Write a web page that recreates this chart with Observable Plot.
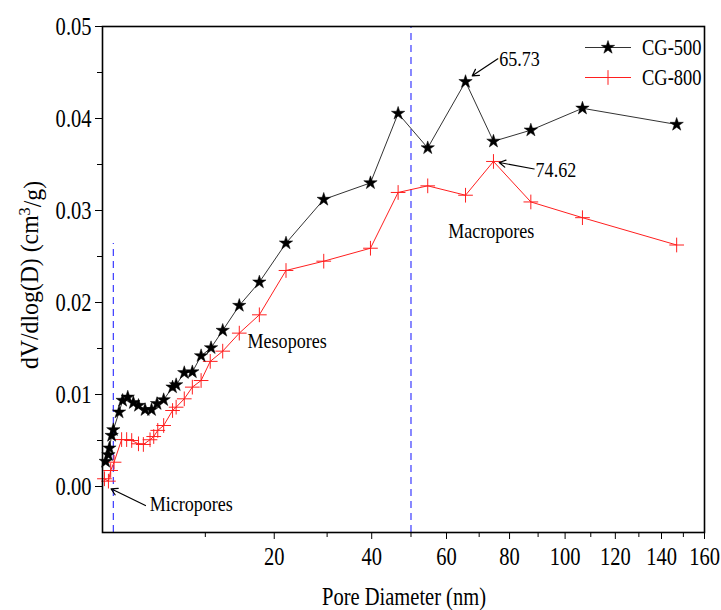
<!DOCTYPE html>
<html><head><meta charset="utf-8">
<script src="https://cdn.jsdelivr.net/npm/d3@7"></script>
<script src="https://cdn.jsdelivr.net/npm/@observablehq/plot@0.6"></script>
<style>
body{margin:0;background:#fff;}
</style></head><body><div id="chart"></div>
<script>
// ---- data ----
const cg500Diameter = [1.61, 1.745, 1.795, 1.91, 2.0, 2.32, 2.53, 2.85, 3.22, 3.58, 4.07, 4.58, 5.04, 5.62, 6.45, 6.8, 7.63, 8.5, 9.5, 10.7, 12.2, 14.5, 17.55, 22.05, 29.3, 39.7, 46.6, 54.6, 65.73, 74.62, 87.4, 106.7, 146.9];
const cg500Volume   = [0.00272, 0.00344, 0.00417, 0.00554, 0.00616, 0.00808, 0.00935, 0.0097, 0.0091, 0.0088, 0.00834, 0.00834, 0.0090, 0.00942, 0.0108, 0.01105, 0.01236, 0.01245, 0.0142, 0.01507, 0.01696, 0.01967, 0.02221, 0.02645, 0.0312, 0.0330, 0.04055, 0.0368, 0.0440, 0.03752, 0.03873, 0.04111, 0.03935];
const cg800Diameter = [1.55, 1.745, 1.86, 2.04, 2.47, 2.78, 3.11, 3.58, 3.94, 4.46, 4.76, 5.1, 5.62, 6.45, 6.8, 7.63, 8.5, 9.5, 10.6, 12.2, 14.5, 17.55, 22.05, 29.3, 39.7, 46.6, 54.6, 65.73, 74.62, 87.4, 106.7, 146.9];
const cg800Volume   = [0.00084, 0.00058, 0.00174, 0.00264, 0.0051, 0.0051, 0.0050, 0.00464, 0.00457, 0.00508, 0.00543, 0.0061, 0.00663, 0.00826, 0.00862, 0.00953, 0.0108, 0.01152, 0.0136, 0.01471, 0.01667, 0.01866, 0.02348, 0.02449, 0.0259, 0.03196, 0.03268, 0.03166, 0.03533, 0.03093, 0.02922, 0.02625];
const seriesNames = ["CG-500", "CG-800"];

const xMajorTicks = [20, 40, 60, 80, 100, 120, 140, 160];
const xMinorTicks = [10, 30, 50, 70, 90, 110, 130, 150];
const yMajorTicks = [0, 0.01, 0.02, 0.03, 0.04, 0.05];
const yMinorTicks = [0.005, 0.015, 0.025, 0.035, 0.045];

const boundaryDiameter = [2, 50];
const boundaryTop = [0.0264, 0.05];

const regionLabels = ["Micropores", "Mesopores", "Macropores"];
const regionLabelX = [4.43, 15.72, 73.9];
const regionLabelY = [-0.00185, 0.01587, 0.02783];
const regionAnchor = ["start", "start", "middle"];

const peakLabels = ["65.73", "74.62"];
const peakLabelX = [76.5, 89.1];
const peakLabelY = [0.0465, 0.0344];

const arrowX1 = [4.10, 76.07, 88.6];
const arrowY1 = [-0.00207, 0.04649, 0.03451];
const arrowX2 = [1.88, 67.82, 76.53];
const arrowY2 = [-0.00025, 0.04464, 0.03522];

// ---- build tables ----
const cg500 = cg500Diameter.map((d, i) => ({d, v: cg500Volume[i]}));
const cg800 = cg800Diameter.map((d, i) => ({d, v: cg800Volume[i]}));
const boundaries = boundaryDiameter.map((d, i) => ({d, top: boundaryTop[i]}));
const regions = regionLabels.map((t, i) => ({t, x: regionLabelX[i], y: regionLabelY[i], a: regionAnchor[i]}));
const peaks = peakLabels.map((t, i) => ({t, x: peakLabelX[i], y: peakLabelY[i]}));
const arrows = arrowX1.map((x1, i) => ({x1, y1: arrowY1[i], x2: arrowX2[i], y2: arrowY2[i]}));

const FONT = "'Liberation Serif', 'Times New Roman', serif";
const SQUEEZE = 0.82;
const STAR_R = 4.2, PLUS_R = 4.8;
const RED = "#ff1f1f";

const chart = Plot.plot({
  width: 721, height: 610,
  marginLeft: 102, marginRight: 17, marginTop: 26, marginBottom: 78,
  style: {fontFamily: FONT, fontSize: "25px", color: "black", background: "white", overflow: "visible"},
  x: {type: "sqrt", domain: [1.46, 160], label: null},
  y: {domain: [-0.005, 0.05], label: null},
  marks: [
    Plot.ruleX(boundaries, {x: "d", y1: -0.005, y2: "top", stroke: "#3a3aff", strokeDasharray: "7,5", strokeWidth: 1.2}),
    Plot.line(cg500, {x: "d", y: "v", stroke: "#333", strokeWidth: 1}),
    Plot.line(cg800, {x: "d", y: "v", stroke: RED, strokeWidth: 1}),
    Plot.dot(cg800, {x: "d", y: "v", symbol: "plus", r: PLUS_R, stroke: RED, strokeWidth: 1}),
    Plot.dot(cg500, {x: "d", y: "v", symbol: "star", r: STAR_R, fill: "black", stroke: "black", strokeWidth: 0.5}),
    Plot.arrow(arrows, {x1: "x1", y1: "y1", x2: "x2", y2: "y2", headLength: 9, stroke: "black", strokeWidth: 1.2}),
    Plot.text(regions.filter(r => r.a === "start"), {x: "x", y: "y", text: "t", textAnchor: "start", fontSize: 22, fill: "black"}),
    Plot.text(regions.filter(r => r.a === "middle"), {x: "x", y: "y", text: "t", textAnchor: "middle", fontSize: 22, fill: "black"}),
    Plot.text(peaks, {x: "x", y: "y", text: "t", textAnchor: "start", fontSize: 22, fill: "black"}),
    Plot.frame({stroke: "black", strokeWidth: 1.6}),
    Plot.axisX({ticks: xMajorTicks, tickSize: 7, tickPadding: 8, tickFormat: d => String(d), label: null}),
    Plot.axisX({ticks: xMinorTicks, tickSize: 5, tickFormat: () => "", label: null}),
    Plot.axisY({ticks: yMajorTicks, tickSize: 7, tickPadding: 4, tickFormat: d3.format(".2f"), label: null}),
    Plot.axisY({ticks: yMinorTicks, tickSize: 5, tickFormat: () => "", label: null})
  ]
});

const svg = d3.select(chart);

// axis titles
svg.append("text")
  .attr("transform", "translate(404,596)")
  .attr("text-anchor", "middle").attr("dy", "0.35em")
  .attr("font-family", FONT).attr("font-size", 25).attr("fill", "black")
  .text("Pore Diameter (nm)");
const yt = svg.append("text")
  .attr("class", "ytitle")
  .attr("transform", "translate(29,275) rotate(-90)")
  .attr("text-anchor", "middle").attr("dy", "0.35em")
  .attr("font-family", FONT).attr("font-size", 25).attr("fill", "black");
yt.append("tspan").text("dV/dlog(D) (cm");
yt.append("tspan").attr("dy", "-0.45em").attr("font-size", 17).text("3");
yt.append("tspan").attr("dy", "0.45em").text("/g)");

// legend
const legend = svg.append("g");
const legendRows = [
  {name: seriesNames[0], y: 47.5, color: "#333", sym: d3.symbolStar, size: Math.PI * STAR_R * STAR_R, fill: "black"},
  {name: seriesNames[1], y: 77.5, color: RED, sym: d3.symbolPlus, size: Math.PI * PLUS_R * PLUS_R, fill: "none"}
];
legendRows.forEach(r => {
  legend.append("line").attr("x1", 585).attr("x2", 631).attr("y1", r.y).attr("y2", r.y)
    .attr("stroke", r.color).attr("stroke-width", 1);
  legend.append("path").attr("d", d3.symbol(r.sym, r.size)())
    .attr("transform", `translate(608,${r.y})`)
    .attr("fill", r.fill).attr("stroke", r.fill === "none" ? r.color : "black").attr("stroke-width", r.fill === "none" ? 1 : 0.5);
  legend.append("text").attr("transform", `translate(642,${r.y})`).attr("dy", "0.35em")
    .attr("text-anchor", "start")
    .attr("font-family", FONT).attr("font-size", 22.5).attr("fill", "black").text(r.name);
});

document.getElementById("chart").appendChild(chart);

// horizontal squeeze of all text (reference typeface is condensed)
chart.querySelectorAll("text").forEach(t => {
  if (!t.textContent) return;
  const len = t.getComputedTextLength();
  const k = t.classList.contains("ytitle") ? 0.95 : SQUEEZE;
  if (len > 0) {
    t.setAttribute("textLength", (len * k).toFixed(2));
    t.setAttribute("lengthAdjust", "spacingAndGlyphs");
  }
});
</script>
</body></html>
